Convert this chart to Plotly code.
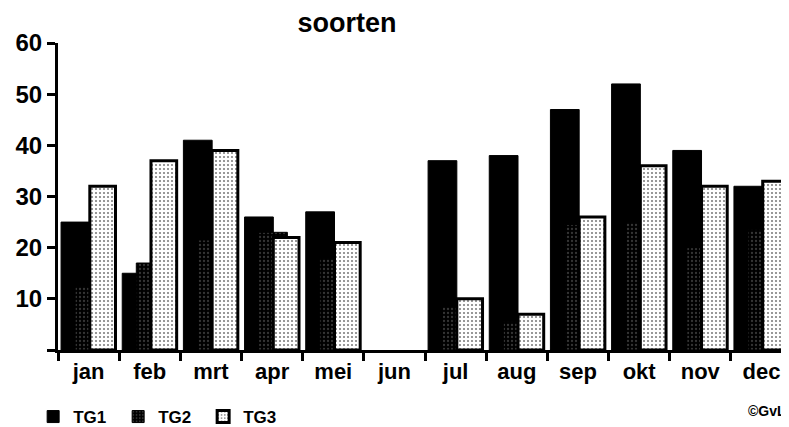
import plotly.graph_objects as go

months = ["jan", "feb", "mrt", "apr", "mei", "jun", "jul", "aug", "sep", "okt", "nov", "dec"]
tg1 = [25, 15, 41, 26, 27, None, 37, 38, 47, 52, 39, 32]
tg2 = [12.5, 17, 21.5, 23, 18, None, 8.5, 5.5, 24.5, 25, 20, 23.5]
tg3 = [32, 37, 39, 22, 21, None, 10, 7, 26, 36, 32, 33]
y_ticks = [0, 10, 20, 30, 40, 50, 60]
y_labels = ["", "10", "20", "30", "40", "50", "60"]

FONT = "Arial, Liberation Sans, sans-serif"

fig = go.Figure()
fig.add_trace(go.Bar(
    x=months, y=tg1, name="<b>TG1</b>", width=0.47, offset=-0.45,
    marker=dict(color="black", line=dict(color="black", width=1)),
))
fig.add_trace(go.Bar(
    x=months, y=tg2, name="<b>TG2</b>", width=0.47, offset=-0.22,
    marker=dict(color="black", line=dict(color="black", width=1),
                pattern=dict(shape=".", bgcolor="black", fgcolor="#6a6a6a", size=4, solidity=0.25)),
))
fig.add_trace(go.Bar(
    x=months, y=tg3, name="<b>TG3</b>", width=0.42, offset=0.02,
    marker=dict(color="white", line=dict(color="black", width=3),
                pattern=dict(shape=".", bgcolor="white", fgcolor="black", size=4, solidity=0.22)),
))

fig.update_layout(
    width=781, height=427,
    barmode="overlay",
    paper_bgcolor="white", plot_bgcolor="white",
    margin=dict(l=50, r=0, t=35, b=84),
    font=dict(family=FONT, color="black", size=15),
    title=dict(text="<b>soorten</b>", x=0.434, xanchor="center", y=1 - 15 / 427, yanchor="middle",
               font=dict(family=FONT, size=27, color="black")),
    showlegend=True,
    legend=dict(orientation="h", x=-0.034, xanchor="left", y=-0.22, yanchor="middle",
                font=dict(family=FONT, size=17, color="black"),
                entrywidth=40, entrywidthmode="pixels", traceorder="normal",
                bgcolor="rgba(0,0,0,0)"),
    xaxis=dict(type="category", categoryorder="array", categoryarray=months,
               range=[-0.5, 11.45], showline=True, linecolor="black", linewidth=3,
               ticks="outside", tickson="boundaries", ticklen=8, tickwidth=3, tickcolor="black",
               showgrid=False, zeroline=False,
               tickfont=dict(family=FONT, size=22, color="black"),
               tickprefix="<b>", ticksuffix="</b>"),
    yaxis=dict(range=[0, 60], tickmode="array", tickvals=y_ticks,
               ticktext=["<b>" + t + "</b>" for t in y_labels],
               showline=True, linecolor="black", linewidth=3,
               ticks="outside", ticklen=8, tickwidth=3, tickcolor="black",
               showgrid=False, zeroline=False,
               tickfont=dict(family=FONT, size=24, color="black")),
    annotations=[dict(text="<b>©GvL</b>",
                      xref="paper", yref="paper", x=0.999, y=-0.198,
                      xanchor="right", yanchor="middle", showarrow=False,
                      font=dict(family=FONT, size=14, color="black"))],
)

fig.write_html("out.html")
